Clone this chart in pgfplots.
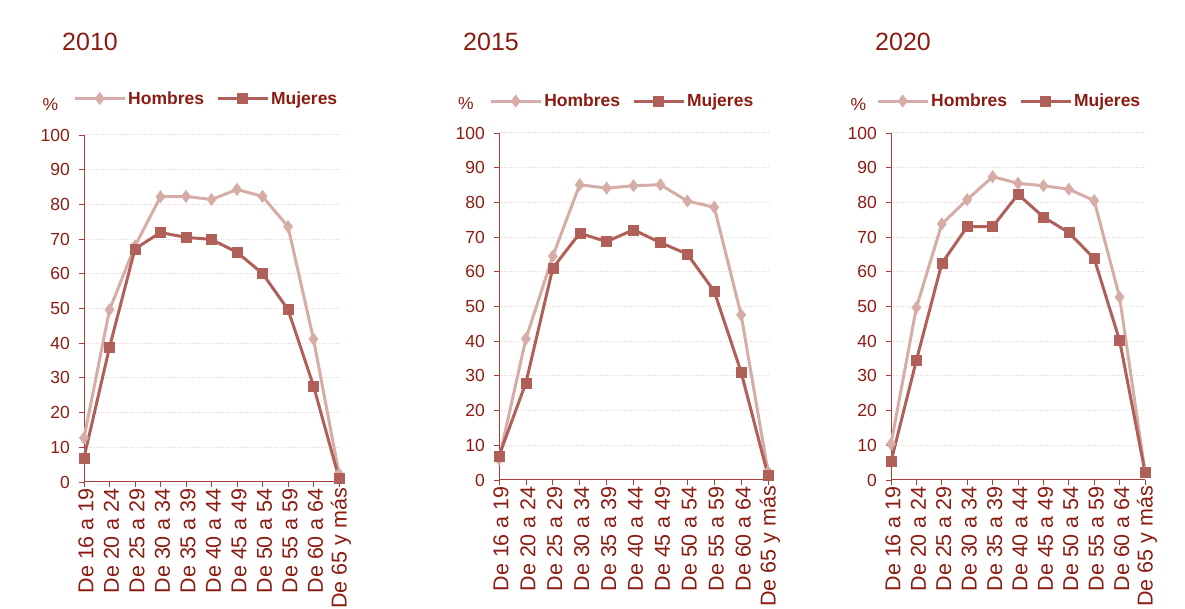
\documentclass[border=0pt]{standalone}
\usepackage{fontspec}
\setmainfont{Liberation Sans}
\usepackage{pgfplots}
\pgfplotsset{compat=1.18}

\definecolor{txt}{RGB}{140,28,18}
\definecolor{hom}{RGB}{214,172,166}
\definecolor{muj}{RGB}{176,96,88}
\definecolor{axc}{RGB}{170,62,52}
\definecolor{grd}{RGB}{240,210,210}

\pgfplotsset{
  panel/.style={
    scale only axis,
    height=347pt,
    xmin=0, xmax=10, ymin=0, ymax=100,
    axis lines*=left,
    axis line style={axc, line width=1pt},
    tick align=outside,
    major tick length=5pt,
    tick style={axc, line width=0.8pt},
    ytick={0,10,...,100},
    xtick={0,...,10},
    xticklabels={De 16 a 19, De 20 a 24, De 25 a 29, De 30 a 34,
      De 35 a 39, De 40 a 44, De 45 a 49, De 50 a 54,
      De 55 a 59, De 60 a 64, De 65 y más},
    xticklabel style={rotate=90, anchor=east, inner sep=1pt, yshift=-2pt,
      font=\fontsize{21.5}{24}\selectfont},
    yticklabel style={inner sep=1pt, xshift=-8pt, font=\fontsize{17.5}{20}\selectfont},
    ymajorgrids,
    grid style={grd, dotted, line width=1pt},
    ticklabel style={text=txt},
    /pgf/number format/assume math mode=true,
    clip=false,
    legend columns=2,
    legend cell align=left,
    legend style={draw=none, fill=none, inner sep=0pt, anchor=west,
      font=\bfseries\fontsize{17.5}{20}\selectfont, text=txt,
      /tikz/every even column/.append style={column sep=10pt}},
    legend image code/.code={
      \draw[mark repeat=2, mark phase=2, #1] plot coordinates {(0pt,0pt) (25pt,0pt) (50pt,0pt)};
    },
  },
  hombres/.style={hom, line width=3pt, mark=diamond*, mark size=6.2pt,
    mark options={solid, fill=hom, draw=hom, line width=0.4pt}},
  mujeres/.style={muj, line width=3pt, mark=square*, mark size=5pt,
    mark options={solid, fill=muj, draw=muj, line width=0.4pt}},
}

\begin{document}
\begin{tikzpicture}[x=1pt, y=1pt]
\path[use as bounding box] (0,0) rectangle (1185,609);

% ---- 2010
\node[anchor=west, text=txt, font=\fontsize{25}{30}\selectfont, inner sep=0pt] at (62,567) {2010};
\node[text=txt, font=\fontsize{17.5}{20}\selectfont, inner sep=0pt] at (50.5,505) {\%};
\begin{axis}[panel, at={(84pt,127pt)}, anchor=south west, width=255pt,
  legend style={at={(-0.043,1.105)}}]
\addplot[hombres] coordinates {
  (0,12.7) (1,49.6) (2,68.0) (3,82.2) (4,82.3) (5,81.4)
  (6,84.3) (7,82.3) (8,73.6) (9,41.2) (10,2.4)};
\addlegendentry{Hombres}
\addplot[mujeres] coordinates {
  (0,7.0) (1,38.8) (2,67.2) (3,71.9) (4,70.5) (5,69.9)
  (6,66.2) (7,60.1) (8,49.7) (9,27.7) (10,1.1)};
\addlegendentry{Mujeres}
\end{axis}

% ---- 2015
\node[anchor=west, text=txt, font=\fontsize{25}{30}\selectfont, inner sep=0pt] at (463,567) {2015};
\node[text=txt, font=\fontsize{17.5}{20}\selectfont, inner sep=0pt] at (466,506) {\%};
\begin{axis}[panel, at={(499pt,129pt)}, anchor=south west, width=269pt,
  legend style={at={(-0.037,1.092)}}]
\addplot[hombres] coordinates {
  (0,6.0) (1,40.7) (2,64.5) (3,85.1) (4,84.1) (5,84.8)
  (6,85.1) (7,80.4) (8,78.6) (9,47.6) (10,2.4)};
\addlegendentry{Hombres}
\addplot[mujeres] coordinates {
  (0,6.9) (1,28.0) (2,61.1) (3,71.1) (4,68.7) (5,72.1)
  (6,68.4) (7,65.1) (8,54.4) (9,31.1) (10,1.3)};
\addlegendentry{Mujeres}
\end{axis}

% ---- 2020
\node[anchor=west, text=txt, font=\fontsize{25}{30}\selectfont, inner sep=0pt] at (875,567) {2020};
\node[text=txt, font=\fontsize{17.5}{20}\selectfont, inner sep=0pt] at (858.5,505) {\%};
\begin{axis}[panel, at={(891pt,129pt)}, anchor=south west, width=254pt,
  legend style={at={(-0.059,1.092)}}]
\addplot[hombres] coordinates {
  (0,10.4) (1,49.7) (2,73.8) (3,80.8) (4,87.4) (5,85.5)
  (6,84.8) (7,83.8) (8,80.5) (9,52.7) (10,2.3)};
\addlegendentry{Hombres}
\addplot[mujeres] coordinates {
  (0,5.3) (1,34.5) (2,62.4) (3,73.0) (4,73.0) (5,82.3)
  (6,75.8) (7,71.3) (8,63.8) (9,40.2) (10,2.3)};
\addlegendentry{Mujeres}
\end{axis}
\end{tikzpicture}
\end{document}
